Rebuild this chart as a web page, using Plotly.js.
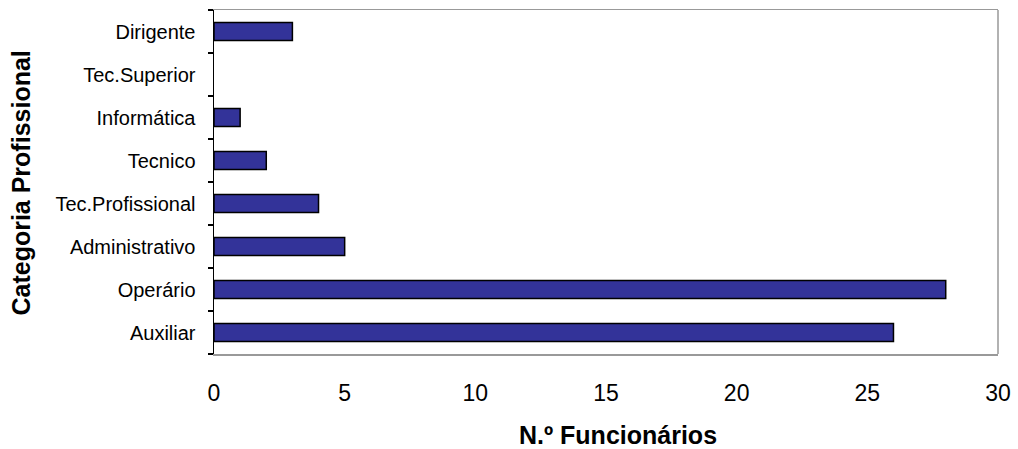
<!DOCTYPE html>
<html><head><meta charset="utf-8">
<script src="https://cdn.plot.ly/plotly-3.0.1.min.js"></script>
<style>body{margin:0;padding:0;background:#fff}#chart{width:1018px;height:449px}</style>
</head><body><div id="chart"></div>
<script>
const categories = ["Auxiliar","Operário","Administrativo","Tec.Profissional","Tecnico","Informática","Tec.Superior","Dirigente"];
const values = [26, 28, 5, 4, 2, 1, 0, 3];
const xTicks = [0,5,10,15,20,25,30];
const xTitle = 'N.º Funcionários';
const yTitle = 'Categoria Profissional';

const trace = {
  type: 'bar', orientation: 'h', y: categories, x: values,
  marker: {color: '#333399', line: {color: '#000', width: values.map(v => v === 0 ? 0 : 1.5)}},
  width: 0.42, hoverinfo: 'x+y'
};
const layout = {
  width: 1018, height: 449,
  margin: {l: 214, r: 20, t: 10, b: 95},
  paper_bgcolor: '#fff', plot_bgcolor: '#fff',
  font: {family: 'Liberation Sans, Arial, sans-serif', color: '#000'},
  showlegend: false,
  xaxis: {
    range: [0, 30], tickvals: xTicks, ticktext: xTicks.map(String),
    showgrid: false, zeroline: false, showline: true, linecolor: '#999', linewidth: 1.5, mirror: true,
    ticks: '', ticklabelstandoff: 18, tickfont: {size: 23}
  },
  yaxis: {
    type: 'category', categoryorder: 'array', categoryarray: categories,
    range: [-0.5, 7.5],
    showgrid: false, zeroline: false, showline: true, linecolor: '#000', linewidth: 1.5,
    ticks: 'outside', tickson: 'boundaries', ticklen: 5, tickcolor: '#000', tickwidth: 1.5,
    ticklabelstandoff: 13, tickfont: {size: 20}
  },
  annotations: [
    {text: '<b>' + xTitle + '</b>', xref: 'paper', yref: 'paper', x: 0.515, y: -0.2355,
     xanchor: 'center', yanchor: 'middle', showarrow: false, font: {size: 25}},
    {text: '<b>' + yTitle + '</b>', xref: 'paper', yref: 'paper', x: -0.2455, y: 0.497,
     xanchor: 'center', yanchor: 'middle', textangle: -90, showarrow: false, font: {size: 25}}
  ],
  shapes: [{type: 'line', xref: 'paper', yref: 'paper', x0: 1, x1: 1, y0: 0, y1: 1, line: {color: '#999', width: 1.5}}]
};
Plotly.newPlot('chart', [trace], layout, {displayModeBar: false, staticPlot: true});
</script></body></html>
